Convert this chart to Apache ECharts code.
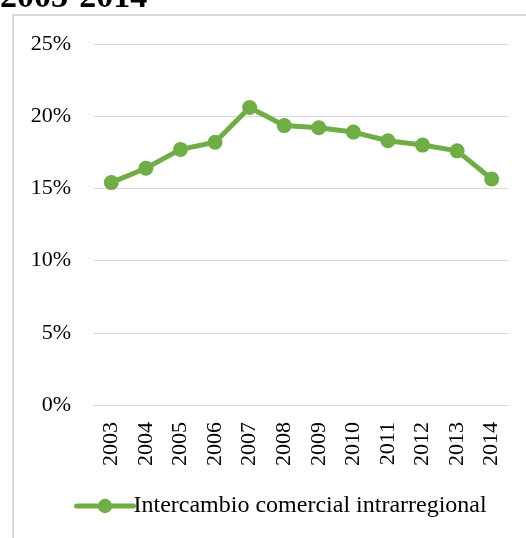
<!DOCTYPE html>
<html>
<head>
<meta charset="utf-8">
<script src="https://cdn.jsdelivr.net/npm/echarts@6/dist/echarts.min.js"></script>
<style>
  html, body { margin: 0; padding: 0; background: #fff; }
  #chart { width: 526px; height: 538px; }
</style>
</head>
<body>
<div id="chart"></div>
<script>
// Intra-regional trade share, 2003-2014 (percent)
const years = ['2003', '2004', '2005', '2006', '2007', '2008', '2009', '2010', '2011', '2012', '2013', '2014'];
const intercambio = [15.4, 16.4, 17.7, 18.2, 20.6, 19.35, 19.2, 18.9, 18.3, 18.0, 17.6, 15.65];
const seriesName = 'Intercambio comercial intrarregional';
const titleText = '2003-2014';

const serif = "'Liberation Serif', 'Times New Roman', serif";
const green = '#70AD47';

const chart = echarts.init(document.getElementById('chart'), null, { renderer: 'canvas' });
chart.setOption({
  backgroundColor: '#ffffff',
  animation: false,
  graphic: [
    {
      type: 'rect',
      shape: { x: 13, y: 15, width: 700, height: 700 },
      style: { fill: 'none', stroke: '#d9d9d9', lineWidth: 2 },
      silent: true
    },
    {
      type: 'text',
      x: 0,
      y: -19,
      style: {
        text: titleText,
        font: 'bold 34px ' + serif,
        fill: '#000',
        verticalAlign: 'top'
      },
      silent: true
    }
  ],
  grid: { left: 94, right: 17, top: 44, bottom: 133 },
  legend: {
    left: 74,
    top: 494,
    padding: 0,
    itemWidth: 57,
    itemHeight: 18,
    lineStyle: { width: 5, cap: 'round' },
    textStyle: { fontFamily: serif, fontSize: 24, color: '#000', padding: [0, 0, 0, -5] },
    data: [seriesName]
  },
  xAxis: {
    type: 'category',
    data: years,
    boundaryGap: true,
    axisLine: { show: true, lineStyle: { color: '#d9d9d9', width: 1 } },
    axisTick: { show: false },
    axisLabel: { rotate: 90, margin: 17, fontFamily: serif, fontSize: 22, color: '#000' }
  },
  yAxis: {
    type: 'value',
    min: 0,
    max: 25,
    interval: 5,
    axisLine: { show: false },
    axisTick: { show: false },
    axisLabel: { formatter: '{value}%', margin: 23, fontFamily: serif, fontSize: 22, color: '#000' },
    splitLine: { lineStyle: { color: '#d9d9d9', width: 1 } }
  },
  series: [
    {
      name: seriesName,
      type: 'line',
      data: intercambio,
      symbol: 'circle',
      symbolSize: 15,
      itemStyle: { color: green },
      lineStyle: { color: green, width: 5 }
    }
  ]
});
</script>
</body>
</html>
